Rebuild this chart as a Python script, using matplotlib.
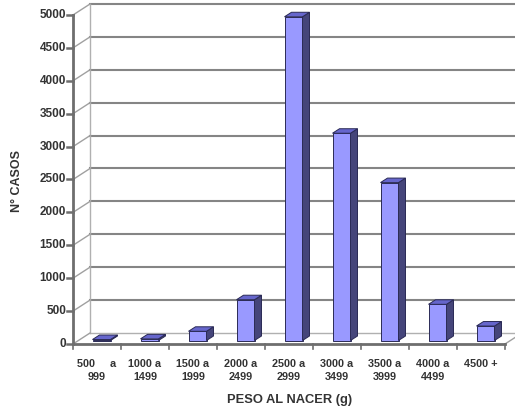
import matplotlib
matplotlib.use("Agg")
import matplotlib.pyplot as plt
from matplotlib.patches import Polygon
from matplotlib.transforms import offset_copy
import numpy as np

categories = ["500     a\n999", "1000 a\n1499", "1500 a\n1999", "2000 a\n2499",
              "2500 a\n2999", "3000 a\n3499", "3500 a\n3999", "4000 a\n4499", "4500 +"]
values = [15, 25, 140, 620, 4920, 3150, 2400, 550, 220]
yticks = [0, 500, 1000, 1500, 2000, 2500, 3000, 3500, 4000, 4500, 5000]
ylabel = "N° CASOS"
xlabel = "PESO AL NACER (g)"

W, H, DPI = 515, 411, 100
fig = plt.figure(figsize=(W / DPI, H / DPI), dpi=DPI)
plt.rcParams['font.family'] = ['Liberation Sans', 'DejaVu Sans']

left_px, right_px, bottom_px, top_px = 73, 505, 344, 15
ax = fig.add_axes([left_px / W, 1 - bottom_px / H, (right_px - left_px) / W, (bottom_px - top_px) / H])
n = len(values)
ax.set_xlim(0, n)
ax.set_ylim(0, 5000)
ax.axis('off')

# depth of the 3D box in pixels
DX, DY = 17, 11
back = offset_copy(ax.transData, fig=fig, x=DX, y=DY, units='dots')
grid_col = '#858585'

# back wall grid lines
for t in yticks[1:]:
    ax.plot([0, n], [t, t], color=grid_col, lw=1.5, transform=back, clip_on=False, zorder=1)
ax.plot([0, n], [0, 0], color='#b0b0b0', lw=1.0, transform=back, clip_on=False, zorder=1)
ax.plot([0, 0], [0, 5000], color='#b0b0b0', lw=1.0, transform=back, clip_on=False, zorder=1)

# left wall diagonals and floor edges (data -> pixel offsets)
ax_w = (right_px - left_px)
ax_h = (bottom_px - top_px)
ddx = DX * n / ax_w
ddy = DY * 5000 / ax_h
for t in yticks:
    ax.plot([0, ddx], [t, t + ddy], color='#a0a0a0', lw=1.0, clip_on=False, zorder=1)
ax.plot([n, n + ddx], [0, ddy], color='#a0a0a0', lw=1.0, clip_on=False, zorder=1)

# bars (pseudo 3D)
FX, FY = 4.5, 3.5
front = offset_copy(ax.transData, fig=fig, x=FX, y=FY, units='dots')
bw = 0.375
bdx = 7 * n / ax_w
bdy = 4.5 * 5000 / ax_h
xs = np.arange(n) + 0.5
ax.bar(xs, values, width=bw, color='#9999ff', edgecolor='#2a2a55', linewidth=0.7,
       transform=front, zorder=3, clip_on=False)
for x, v in zip(xs, values):
    r = x + bw / 2
    l = x - bw / 2
    side = Polygon([(r, 0), (r + bdx, bdy), (r + bdx, v + bdy), (r, v)], closed=True,
                   facecolor='#45457a', edgecolor='#2a2a55', lw=0.7, transform=front, zorder=3, clip_on=False)
    top = Polygon([(l, v), (r, v), (r + bdx, v + bdy), (l + bdx, v + bdy)], closed=True,
                  facecolor='#6666cc', edgecolor='#2a2a55', lw=0.7, transform=front, zorder=3, clip_on=False)
    ax.add_patch(side)
    ax.add_patch(top)

# axes lines
axis_col = '#6e6e6e'
ax.plot([0, 0], [0, 5000], color=axis_col, lw=2.0, clip_on=False, zorder=4)
ax.plot([0, n], [0, 0], color=axis_col, lw=2.0, clip_on=False, zorder=4)

# y ticks and labels
tl = 6 * n / ax_w
for t in yticks:
    ax.plot([-tl, 0], [t, t], color=axis_col, lw=1.8, clip_on=False, zorder=4)
    ax.text(-tl - 0.02, t, str(t), ha='right', va='center', fontsize=8.5,
            fontweight='bold', color='#333333')
# x ticks
tly = 5 * 5000 / ax_h
for i in range(n + 1):
    ax.plot([i, i], [0, -tly], color=axis_col, lw=1.2, clip_on=False, zorder=4)
for x, c in zip(xs, categories):
    ax.text(x, -235, c, ha='center', va='top', fontsize=7.8, fontweight='bold',
            color='#333333', linespacing=1.35)

fig.text(290 / W, 1 - 400 / H, xlabel, ha='center', va='center', fontsize=9.3, fontweight='bold', color='#333333')
fig.text(17 / W, 1 - 181 / H, ylabel, ha='center', va='center', rotation=90, fontsize=9,
         fontweight='bold', color='#333333')

fig.savefig('out.png', dpi=DPI)
